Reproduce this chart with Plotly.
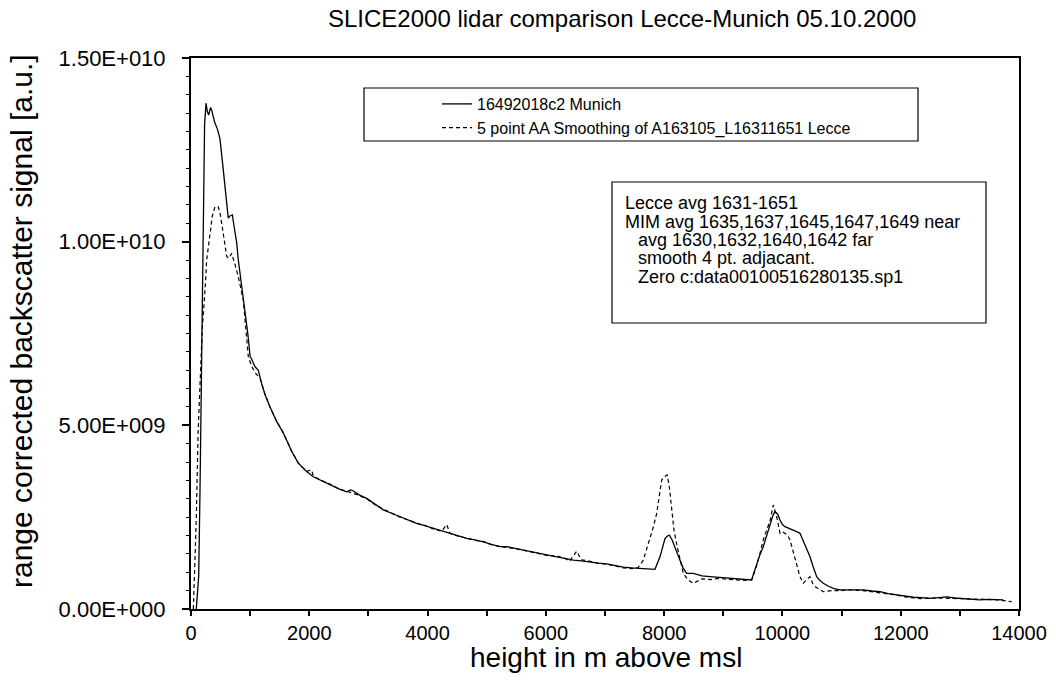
import plotly.graph_objects as go

# ---- data ----
munich_height = [90, 130, 152, 170, 181, 195, 210, 230, 254, 275, 300, 330, 350, 400, 450, 490, 530, 575, 610, 630,
                 660, 700, 730, 770, 800, 850, 910, 960, 1000, 1026, 1080, 1138, 1200, 1260, 1336, 1450, 1561, 1700,
                 1814, 1950, 2068, 2200, 2350, 2500, 2633, 2700, 2739, 2850, 2971, 3100, 3251, 3400, 3534, 3680,
                 3816, 3950, 4097, 4240, 4379, 4520, 4662, 4800, 4942, 5080, 5225, 5338, 5480, 5619, 5760, 5901,
                 6040, 6183, 6320, 6464, 6600, 6746, 6890, 7029, 7170, 7309, 7450, 7592, 7720, 7845, 7930, 7970,
                 8014, 8050, 8087, 8130, 8183, 8230, 8268, 8320, 8381, 8493, 8640, 8775, 8920, 9058, 9200, 9338,
                 9480, 9520, 9565, 9620, 9677, 9730, 9790, 9840, 9874, 9920, 9959, 10000, 10043, 10110, 10184,
                 10250, 10297, 10340, 10381, 10420, 10466, 10520, 10579, 10630, 10691, 10780, 10860, 10973, 11086,
                 11230, 11367, 11510, 11650, 11790, 11932, 12070, 12213, 12350, 12495, 12640, 12778, 12920, 13058,
                 13200, 13340, 13500, 13734]
munich_signal = [0.0e9, 0.9e9, 3.2e9, 5.6e9, 7.5e9, 9.6e9, 11.8e9, 13.2e9, 13.77e9, 13.55e9, 13.45e9, 13.65e9,
                 13.58e9, 13.25e9, 13.05e9, 12.8e9, 12.2e9, 11.46e9, 10.9e9, 10.64e9, 10.7e9, 10.73e9, 10.4e9,
                 10.0e9, 9.5e9, 8.9e9, 8.23e9, 7.5e9, 6.87e9, 6.8e9, 6.6e9, 6.5e9, 6.1e9, 5.8e9, 5.5e9, 5.1e9,
                 4.79e9, 4.3e9, 3.97e9, 3.75e9, 3.6e9, 3.5e9, 3.38e9, 3.27e9, 3.19e9, 3.24e9, 3.22e9, 3.1e9,
                 3.01e9, 2.86e9, 2.70e9, 2.6e9, 2.51e9, 2.41e9, 2.33e9, 2.27e9, 2.2e9, 2.12e9, 2.06e9, 1.99e9,
                 1.92e9, 1.88e9, 1.83e9, 1.76e9, 1.70e9, 1.70e9, 1.65e9, 1.61e9, 1.55e9, 1.50e9, 1.46e9, 1.42e9,
                 1.38e9, 1.33e9, 1.31e9, 1.29e9, 1.25e9, 1.23e9, 1.18e9, 1.14e9, 1.12e9, 1.11e9, 1.10e9, 1.08e9,
                 1.42e9, 1.70e9, 1.92e9, 1.98e9, 2.01e9, 1.9e9, 1.70e9, 1.5e9, 1.33e9, 1.12e9, 0.97e9, 0.97e9,
                 0.9e9, 0.88e9, 0.86e9, 0.84e9, 0.81e9, 0.79e9, 0.79e9, 1.0e9, 1.24e9, 1.48e9, 1.70e9, 2.0e9,
                 2.33e9, 2.55e9, 2.65e9, 2.58e9, 2.42e9, 2.3e9, 2.24e9, 2.2e9, 2.15e9, 2.1e9, 2.06e9, 1.9e9,
                 1.70e9, 1.58e9, 1.42e9, 1.15e9, 0.88e9, 0.78e9, 0.70e9, 0.62e9, 0.56e9, 0.52e9, 0.52e9, 0.53e9,
                 0.52e9, 0.49e9, 0.47e9, 0.42e9, 0.38e9, 0.35e9, 0.32e9, 0.31e9, 0.29e9, 0.31e9, 0.33e9, 0.30e9,
                 0.29e9, 0.27e9, 0.25e9, 0.26e9, 0.25e9]

lecce_height = [40, 90, 120, 150, 190, 237, 265, 321, 360, 406, 462, 500, 546, 604, 640, 688, 740, 800, 884, 930,
                969, 1026, 1100, 1167, 1250, 1336, 1450, 1561, 1700, 1814, 1950, 2040, 2068, 2200, 2350, 2500,
                2633, 2800, 2971, 3100, 3251, 3400, 3534, 3680, 3816, 3950, 4097, 4240, 4323, 4379, 4520, 4662,
                4800, 4942, 5080, 5225, 5338, 5480, 5619, 5760, 5901, 6040, 6183, 6320, 6400, 6521, 6600, 6746,
                6890, 7029, 7170, 7309, 7450, 7560, 7648, 7700, 7761, 7820, 7874, 7920, 7958, 8000, 8053, 8090,
                8128, 8166, 8220, 8268, 8324, 8400, 8493, 8640, 8775, 8920, 9058, 9200, 9338, 9480, 9550, 9621,
                9680, 9734, 9790, 9846, 9903, 9959, 10000, 10043, 10090, 10128, 10170, 10212, 10260, 10297,
                10353, 10410, 10466, 10510, 10550, 10691, 10830, 10973, 11150, 11367, 11500, 11650, 11800,
                11932, 12070, 12213, 12350, 12495, 12780, 13058, 13300, 13622, 13876]
lecce_signal = [0.0e9, 2.5e9, 4.8e9, 6.2e9, 7.6e9, 8.68e9, 9.5e9, 10.2e9, 10.7e9, 10.95e9, 10.95e9, 10.7e9,
                10.2e9, 9.6e9, 9.55e9, 9.68e9, 9.4e9, 9.05e9, 8.41e9, 7.6e9, 6.87e9, 6.6e9, 6.4e9, 6.29e9, 5.85e9,
                5.5e9, 5.1e9, 4.8e9, 4.3e9, 3.97e9, 3.75e9, 3.78e9, 3.62e9, 3.5e9, 3.4e9, 3.27e9, 3.2e9, 3.12e9,
                3.0e9, 2.85e9, 2.72e9, 2.6e9, 2.5e9, 2.42e9, 2.33e9, 2.28e9, 2.18e9, 2.12e9, 2.3e9, 2.06e9,
                1.98e9, 1.93e9, 1.87e9, 1.84e9, 1.75e9, 1.70e9, 1.68e9, 1.64e9, 1.6e9, 1.56e9, 1.5e9, 1.45e9,
                1.45e9, 1.38e9, 1.3e9, 1.57e9, 1.34e9, 1.3e9, 1.24e9, 1.22e9, 1.16e9, 1.12e9, 1.1e9, 1.13e9,
                1.33e9, 1.6e9, 1.88e9, 2.25e9, 2.6e9, 3.1e9, 3.51e9, 3.6e9, 3.65e9, 3.3e9, 2.79e9, 2.15e9, 1.7e9,
                1.33e9, 0.97e9, 0.8e9, 0.7e9, 0.82e9, 0.8e9, 0.83e9, 0.82e9, 0.8e9, 0.78e9, 0.8e9, 1.1e9, 1.52e9,
                1.9e9, 2.15e9, 2.4e9, 2.83e9, 2.51e9, 2.06e9, 2.1e9, 2.06e9, 2.0e9, 1.88e9, 1.65e9, 1.42e9,
                1.1e9, 0.88e9, 0.7e9, 0.8e9, 0.88e9, 0.7e9, 0.61e9, 0.47e9, 0.5e9, 0.5e9, 0.52e9, 0.5e9, 0.47e9,
                0.45e9, 0.4e9, 0.38e9, 0.33e9, 0.3e9, 0.28e9, 0.3e9, 0.3e9, 0.28e9, 0.27e9, 0.25e9, 0.2e9]

series_names = ["16492018c2 Munich", "5 point AA Smoothing of A163105_L16311651 Lecce"]

x_tick_values = [0, 1000, 2000, 3000, 4000, 5000, 6000, 7000, 8000, 9000, 10000, 11000, 12000, 13000, 14000]
x_tick_labels = ["0", "", "2000", "", "4000", "", "6000", "", "8000", "", "10000", "", "12000", "", "14000"]
y_tick_values = [0, 2.5e9, 5e9, 7.5e9, 1e10, 1.25e10, 1.5e10]
y_tick_labels = ["0.00E+000", "", "5.00E+009", "", "1.00E+010", "", "1.50E+010"]

note_lines = ["Lecce avg 1631-1651",
              "MIM avg 1635,1637,1645,1647,1649 near",
              "avg 1630,1632,1640,1642 far",
              "smooth 4 pt. adjacant.",
              "Zero c:data00100516280135.sp1"]
note_indent = [False, False, True, True, True]

FONT = "Liberation Sans, Arial, sans-serif"

fig = go.Figure()
fig.add_trace(go.Scatter(x=munich_height, y=munich_signal, mode="lines", name=series_names[0],
                         line=dict(color="black", width=1.3)))
fig.add_trace(go.Scatter(x=lecce_height, y=lecce_signal, mode="lines", name=series_names[1],
                         line=dict(color="black", width=1.2, dash="4px,3px")))

W, H = 1056, 691
L, R, T, B = 191, 37, 58, 82
pw, ph = W - L - R, H - T - B

def px(x):
    return (x - L) / pw

def py(y):
    return (H - B - y) / ph

annotations = [
    dict(text="SLICE2000 lidar comparison Lecce-Munich 05.10.2000", xref="paper", yref="paper",
         x=px(622), y=py(19), xanchor="center", yanchor="middle", showarrow=False,
         font=dict(size=24, family=FONT)),
    dict(text="height in m above msl", xref="paper", yref="paper",
         x=px(606), y=py(657), xanchor="center", yanchor="middle", showarrow=False,
         font=dict(size=28, family=FONT)),
    dict(text="range corrected backscatter signal [a.u.]", xref="paper", yref="paper",
         x=px(21), y=py(321), xanchor="center", yanchor="middle", showarrow=False, textangle=-90,
         font=dict(size=30, family=FONT)),
]
note_y = [203, 222, 240, 258, 277]
for line, ind, yy in zip(note_lines, note_indent, note_y):
    annotations.append(dict(text=line, xref="paper", yref="paper", align="left",
                            x=px(636 if ind else 623), y=py(yy), xanchor="left", yanchor="middle",
                            showarrow=False, font=dict(size=18, family=FONT)))

fig.update_layout(
    width=W, height=H,
    margin=dict(l=L, r=R, t=T, b=B, autoexpand=False),
    paper_bgcolor="white", plot_bgcolor="white",
    font=dict(family=FONT, color="black"),
    showlegend=True,
    legend=dict(x=px(437), y=py(87), xanchor="left", yanchor="top",
                bgcolor="rgba(0,0,0,0)", borderwidth=0,
                font=dict(size=16, family=FONT), tracegroupgap=0, itemwidth=30),
    xaxis=dict(range=[0, 14000], tickmode="array", tickvals=x_tick_values, ticktext=x_tick_labels,
               ticks="outside", ticklen=5, tickwidth=1.5, tickcolor="black",
               showline=True, linecolor="black", linewidth=2, mirror=True,
               showgrid=False, zeroline=False,
               tickfont=dict(size=20, family=FONT)),
    yaxis=dict(range=[0, 1.5e10], tickmode="array", tickvals=y_tick_values, ticktext=y_tick_labels,
               ticks="outside", ticklen=7, tickwidth=1.5, tickcolor="black", ticklabelstandoff=12,
               minor=dict(tickvals=[i * 5e8 for i in range(31)], ticks="outside", ticklen=3,
                          tickcolor="black", tickwidth=1),
               showline=True, linecolor="black", linewidth=2, mirror=True,
               showgrid=False, zeroline=False,
               tickfont=dict(size=22, family=FONT)),
    shapes=[
        dict(type="rect", xref="paper", yref="paper", x0=px(364), x1=px(918), y0=py(141), y1=py(88),
             line=dict(color="black", width=1.2), fillcolor="rgba(0,0,0,0)"),
        dict(type="rect", xref="paper", yref="paper", x0=px(612), x1=px(986), y0=py(323), y1=py(182),
             line=dict(color="black", width=1.2), fillcolor="rgba(0,0,0,0)"),
    ],
    annotations=annotations,
)

fig.write_html("out.html")
